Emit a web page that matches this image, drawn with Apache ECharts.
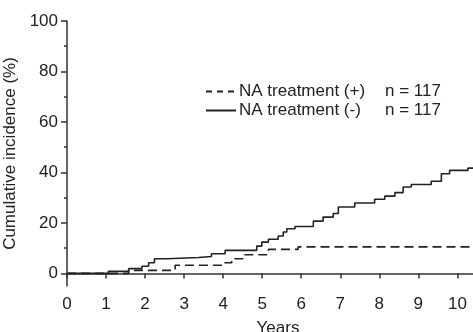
<!DOCTYPE html>
<html>
<head>
<meta charset="utf-8">
<script src="https://cdn.jsdelivr.net/npm/echarts@6/dist/echarts.min.js"></script>
<style>
  html, body { margin: 0; padding: 0; background: #fff; }
  #chart { width: 473px; height: 332px; }
</style>
</head>
<body>
<div id="chart"></div>
<script>
// step points [years, cumulative incidence %]
const naPlus = [
  [0, 0], [1.58, 1.2], [2.77, 3.2], [4.0, 4.2], [4.22, 5.8], [4.52, 7.4],
  [5.16, 9.5], [5.92, 10.5], [10.4, 10.5]
];
const naMinus = [
  [0, 0], [1.06, 0.8], [1.58, 1.9], [1.92, 2.8], [2.09, 4.2], [2.24, 5.8],
  [2.56, 6.3], [3.37, 6.7], [3.7, 7.8], [4.05, 9.1], [4.86, 10.8], [4.99, 12.4],
  [5.16, 13.5], [5.41, 14.8], [5.54, 16.4], [5.63, 17.7], [5.84, 18.6],
  [6.31, 20.7], [6.56, 22.3], [6.82, 23.7], [6.95, 26.3], [7.37, 27.9],
  [7.88, 29.4], [8.14, 30.6], [8.4, 32], [8.61, 34.2], [8.82, 35.2],
  [9.33, 36.5], [9.59, 39.5], [9.8, 40.8], [10.27, 41.7], [10.4, 41.7]
];
const seriesNames = ["NA treatment (+)", "NA treatment (-)"];
const seriesN = [117, 117];
const xTicks = [0, 1, 2, 3, 4, 5, 6, 7, 8, 9, 10];
const yTicks = [0, 20, 40, 60, 80, 100];
const yMinorTicks = [10, 30, 50, 70, 90];

const ink = "#222";
const font = "Liberation Sans";
const fs = 17;

const chart = echarts.init(document.getElementById("chart"));
chart.setOption({
  animation: false,
  textStyle: { fontFamily: font, color: ink },
  grid: { left: 67, right: 0, top: 21, bottom: 46, outerBoundsMode: "none" },
  legend: {
    orient: "vertical",
    left: 200,
    top: 78,
    itemWidth: 30,
    itemHeight: 14,
    itemGap: 2,
    itemStyle: { opacity: 0 },
    data: [
      { name: seriesNames[0], lineStyle: { type: [6, 5] } },
      { name: seriesNames[1] }
    ],
    formatter: name => {
      const n = seriesN[seriesNames.indexOf(name)];
      return `{a|${name}}{b|n = ${n}}`;
    },
    textStyle: {
      fontFamily: font,
      fontSize: fs,
      color: ink,
      padding: [0, 0, 0, -2],
      rich: {
        a: { width: 146, fontSize: fs, fontFamily: font, color: ink },
        b: { fontSize: fs, fontFamily: font, color: ink }
      }
    }
  },
  xAxis: {
    type: "value",
    min: 0,
    max: 10.4,
    interval: 1,
    name: "Years",
    nameLocation: "middle",
    nameGap: 34,
    nameTextStyle: { fontSize: fs, color: ink, padding: [0, 0, 0, 16] },
    splitLine: { show: false },
    axisLine: { lineStyle: { color: "#333", width: 1.5 } },
    axisTick: { length: 5, customValues: xTicks, lineStyle: { color: "#333", width: 1.5 } },
    axisLabel: { customValues: xTicks, fontSize: fs, color: ink, margin: 10 }
  },
  yAxis: [
    {
      type: "value",
      min: -5,
      max: 100,
      name: "Cumulative incidence (%)",
      nameLocation: "middle",
      nameGap: 36,
      nameTextStyle: { fontSize: fs, color: ink },
      splitLine: { show: false },
      axisLine: { show: true, lineStyle: { color: "#333", width: 1.5 } },
      axisTick: { show: true, length: 6, customValues: yTicks, lineStyle: { color: "#333", width: 1.5 } },
      axisLabel: { customValues: yTicks, fontSize: fs, color: ink, margin: 9 }
    },
    {
      type: "value",
      min: -5,
      max: 100,
      position: "left",
      splitLine: { show: false },
      axisLine: { show: false },
      axisTick: { show: true, length: 3, customValues: yMinorTicks, lineStyle: { color: "#333", width: 1.5 } },
      axisLabel: { show: false }
    }
  ],
  series: [
    {
      name: seriesNames[0],
      type: "line",
      step: "end",
      symbol: "none",
      data: naPlus,
      lineStyle: { color: ink, width: 1.6, type: [9, 5] },
      itemStyle: { color: ink }
    },
    {
      name: seriesNames[1],
      type: "line",
      step: "end",
      symbol: "none",
      data: naMinus,
      lineStyle: { color: ink, width: 1.6 },
      itemStyle: { color: ink }
    }
  ]
});
</script>
</body>
</html>
